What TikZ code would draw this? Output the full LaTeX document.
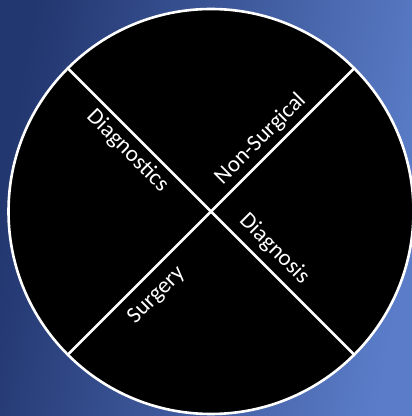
\documentclass[tikz,border=0pt]{standalone}
\usepackage{fontspec}
\setmainfont{Carlito}
\usepackage{xcolor}
\usetikzlibrary{positioning}
\definecolor{bgdark}{HTML}{22366F}
\definecolor{bglight}{HTML}{5B7DC9}

\begin{document}
\begin{tikzpicture}[
      x=1pt, y=1pt,
      divider/.style={draw=white, line width=2.6pt},
      label/.style={text=white, font=\fontsize{23}{26}\selectfont, inner sep=2pt, sloped}
    ]
    \clip (0,0) rectangle (412,416);
    \shade[left color=bgdark, right color=bglight, shading angle=80] (0,0) rectangle (412,416);

    \node (dial) [circle, draw=white, line width=2.6pt, fill=black, minimum size=405pt] at (211,204.5) {};

    \draw[divider] (dial.135) -- (dial.-45)
      node (diagnostics) [label, pos=0.25, below=3pt] {Diagnostics}
      node (diagnosis) [label, pos=0.675, above=5pt] {Diagnosis};
    \draw[divider] (dial.-135) -- (dial.45)
      node (surgery) [label, pos=0.26, below=8pt] {Surgery}
      node (nonsurgical) [label, pos=0.712, above=3pt] {Non-Surgical};
  \end{tikzpicture}
\end{document}
